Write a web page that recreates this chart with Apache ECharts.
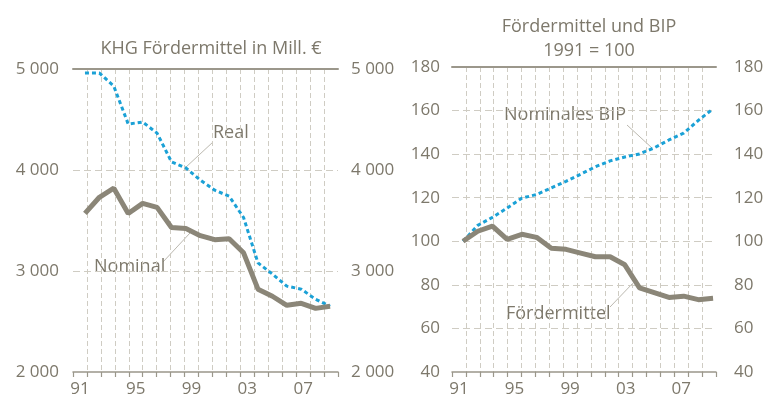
<!DOCTYPE html>
<html>
<head>
<meta charset="utf-8">
<script src="https://cdn.jsdelivr.net/npm/echarts@6/dist/echarts.min.js"></script>
<style>
  html, body { margin: 0; padding: 0; background: #fff; }
  #chart { width: 774px; height: 405px; }
</style>
</head>
<body>
<div id="chart"></div>
<script>
// axis categories (band labels) and data years
const axisYears = ['91', '92', '93', '94', '95', '96', '97', '98', '99', '00',
  '01', '02', '03', '04', '05', '06', '07', '08', '09']
const years = [1991, 1992, 1993, 1994, 1995, 1996, 1997, 1998, 1999, 2000,
  2001, 2002, 2003, 2004, 2005, 2006, 2007, 2008]

// KHG Fördermittel, Mill. €
const nominal = [3570, 3730, 3820, 3570, 3670, 3630, 3430, 3420, 3350, 3310,
  3320, 3180, 2820, 2750, 2660, 2680, 2630, 2650]
const real = [4960, 4960, 4830, 4455, 4475, 4365, 4080, 4020, 3900, 3800,
  3740, 3530, 3080, 2970, 2850, 2820, 2720, 2650]

// Index 1991 = 100
const foerderIdx = [100, 104.6, 107, 100.9, 103.2, 101.8, 96.8, 96.3, 94.6, 92.9,
  92.9, 89.2, 78.6, 76.4, 74.2, 74.8, 73.2, 73.8]
const bipIdx = [100, 107.3, 111, 115.3, 119.8, 121.5, 124.5, 127.5, 130.8, 134.2,
  136.9, 138.7, 140.1, 142.9, 146.5, 149.6, 155.5, 160.8]

const textColor = '#7d786b'
const axisColor = '#9b978b'
const gridColor = '#cfccc3'
const grayLine = '#8b8678'
const blueLine = '#1ba1d6'
const font = 'Open Sans'

const pairs = vals => years.map((y, i) => [y, vals[i]])
const thousands = v => String(v).replace(/\B(?=(\d{3})+(?!\d))/g, ' ')

const chart = echarts.init(document.getElementById('chart'), null, { renderer: 'canvas' })

function bandAxis(grid) {
  return {
    type: 'category',
    gridIndex: grid,
    position: 'bottom',
    data: axisYears,
    boundaryGap: true,
    axisLine: { show: true, lineStyle: { color: axisColor, width: 1.5 } },
    axisTick: { show: true, interval: 0, length: 5, lineStyle: { color: axisColor, width: 1.2 } },
    axisLabel: { interval: 3, color: textColor, fontFamily: font, fontSize: 17, margin: 9 },
    splitLine: {
      show: true, interval: 0, showMinLine: false, showMaxLine: false,
      lineStyle: { color: gridColor, type: [5, 3], width: 1 }
    }
  }
}
function topLine(grid) {
  return {
    type: 'category', gridIndex: grid, position: 'top', data: axisYears,
    axisLine: { show: true, lineStyle: { color: axisColor, width: 2 } },
    axisTick: { show: false }, axisLabel: { show: false }, splitLine: { show: false }
  }
}
function dataAxis(grid, min, max) {
  return { type: 'value', gridIndex: grid, min: min, max: max, show: false, splitLine: { show: false } }
}
function valAxis(grid, pos, min, max, step, margin, split) {
  return {
    type: 'value', gridIndex: grid, position: pos, min: min, max: max, interval: step,
    axisLine: { show: false }, axisTick: { show: false },
    axisLabel: { color: textColor, fontFamily: font, fontSize: 17, margin: margin, formatter: thousands },
    splitLine: {
      show: split, showMinLine: false, showMaxLine: false,
      lineStyle: { color: gridColor, type: [7, 4], width: 1 }
    }
  }
}

const labelFont = '18px "Open Sans"'

const option = {
  animation: false,
  title: [
    {
      text: 'KHG Fördermittel in Mill. €', left: 206, top: 35, textAlign: 'center',
      textStyle: { color: textColor, fontFamily: font, fontSize: 18, fontWeight: 'normal' }
    },
    {
      text: 'Fördermittel und BIP\n1991 = 100', left: 584, top: 10, textAlign: 'center',
      textStyle: { color: textColor, fontFamily: font, fontSize: 18, fontWeight: 'normal', lineHeight: 24 }
    }
  ],
  grid: [
    { left: 73, right: 436, top: 69, bottom: 33 },
    { left: 452, right: 58, top: 67, bottom: 33 }
  ],
  xAxis: [
    bandAxis(0), dataAxis(0, 1990.17, 2008.55), topLine(0),
    bandAxis(1), dataAxis(1, 1990.25, 2008.2), topLine(1)
  ],
  yAxis: [
    valAxis(0, 'left', 2000, 5000, 1000, 14, true),
    valAxis(0, 'right', 2000, 5000, 1000, 13, false),
    valAxis(1, 'left', 40, 180, 20, 12, true),
    valAxis(1, 'right', 40, 180, 20, 18, false)
  ],
  series: [
    {
      name: 'Real', type: 'line', xAxisIndex: 1, yAxisIndex: 0, data: pairs(real),
      symbol: 'none', lineStyle: { color: blueLine, width: 3, type: [4, 3] }, z: 3
    },
    {
      name: 'Nominal', type: 'line', xAxisIndex: 1, yAxisIndex: 0, data: pairs(nominal),
      symbol: 'none', lineStyle: { color: grayLine, width: 5 }, z: 4
    },
    {
      name: 'Nominales BIP', type: 'line', xAxisIndex: 4, yAxisIndex: 2, data: pairs(bipIdx),
      symbol: 'none', lineStyle: { color: blueLine, width: 3, type: [4, 3] }, z: 3
    },
    {
      name: 'Fördermittel', type: 'line', xAxisIndex: 4, yAxisIndex: 2, data: pairs(foerderIdx),
      symbol: 'none', lineStyle: { color: grayLine, width: 5 }, z: 4
    }
  ],
  graphic: [
    // leader lines
    { type: 'line', shape: { x1: 185, y1: 168, x2: 213, y2: 142 }, style: { stroke: '#aaa69b', lineWidth: 0.8 } },
    { type: 'line', shape: { x1: 190, y1: 233, x2: 163, y2: 262 }, style: { stroke: '#aaa69b', lineWidth: 0.8 } },
    { type: 'line', shape: { x1: 652, y1: 148, x2: 627, y2: 125 }, style: { stroke: '#aaa69b', lineWidth: 0.8 } },
    { type: 'line', shape: { x1: 633, y1: 283, x2: 610, y2: 307 }, style: { stroke: '#aaa69b', lineWidth: 0.8 } },
    // labels
    { type: 'text', left: 213, top: 124, style: { text: 'Real', fill: textColor, font: labelFont } },
    { type: 'text', left: 94, top: 258, style: { text: 'Nominal', fill: textColor, font: labelFont } },
    { type: 'text', left: 504, top: 106, style: { text: 'Nominales BIP', fill: textColor, font: labelFont } },
    { type: 'text', left: 506, top: 305, style: { text: 'Fördermittel', fill: textColor, font: labelFont } }
  ]
}

chart.setOption(option)
</script>
</body>
</html>
